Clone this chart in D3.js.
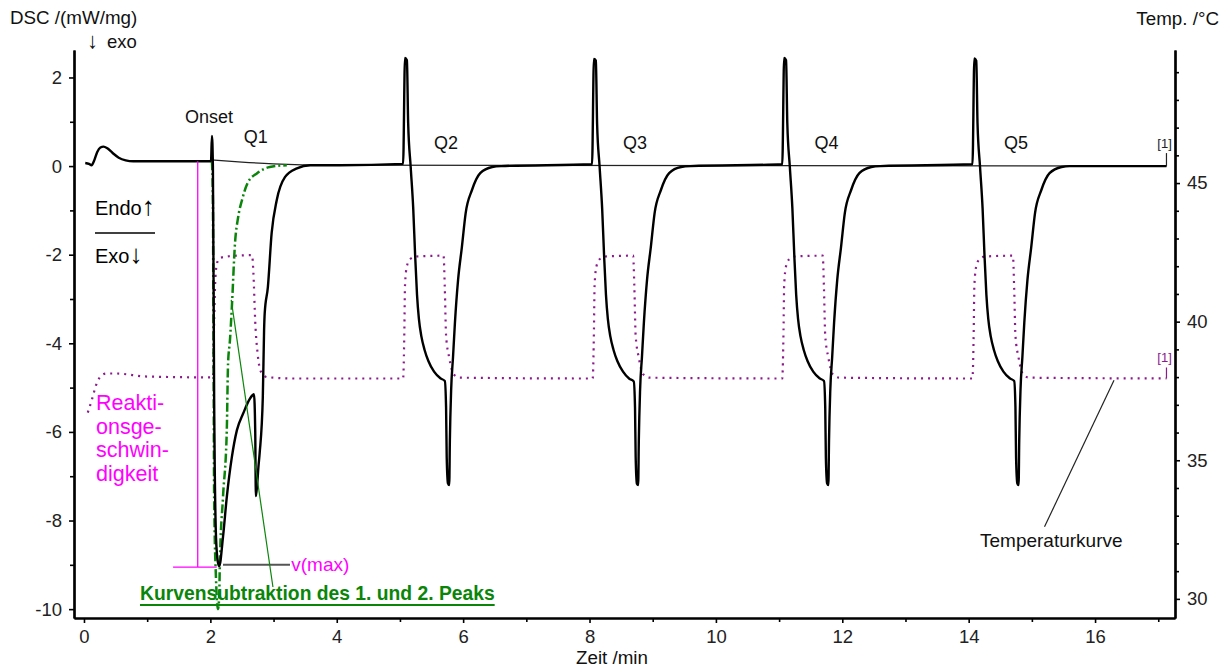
<!DOCTYPE html>
<html>
<head>
<meta charset="utf-8">
<script src="https://cdn.jsdelivr.net/npm/d3@7"></script>
<style>
body { margin: 0; background: #fff; }
text { font-family: "Liberation Sans", Arial, sans-serif; }
</style>
</head>
<body>
<script>
// tick values
const timeTicks = [0, 2, 4, 6, 8, 10, 12, 14, 16];
const timeMinor = [1, 3, 5, 7, 9, 11, 13, 15, 17];
const dscTicks = [-10, -8, -6, -4, -2, 0, 2];
const dscMinor = [-9, -7, -5, -3, -1, 1];
const tempTicks = [30, 35, 40, 45];
const tempMinor = [31, 32, 33, 34, 36, 37, 38, 39, 41, 42, 43, 44, 46, 47, 48, 49];
const peakLabels = ["Q1", "Q2", "Q3", "Q4", "Q5"];

// DSC signal [min, mW/mg]
const dscStart = [[0.02, 0.07], [0.08, 0.05], [0.12, 0.02], [0.16, 0.12], [0.21, 0.32], [0.26, 0.42], [0.31, 0.44],
    [0.37, 0.40], [0.45, 0.30], [0.55, 0.19], [0.66, 0.13], [0.78, 0.11], [1.4, 0.11], [2.01, 0.11]];
const dscQ1 = [[2.025, 0.68], [2.04, 0.0], [2.06, -5.3], [2.09, -8.4], [2.12, -8.95], [2.14, -9.03], [2.20, -8.37],
    [2.26, -7.47], [2.34, -6.57], [2.42, -5.96], [2.52, -5.58], [2.63, -5.24], [2.69, -5.15], [2.71, -6.0],
    [2.72, -7.45], [2.74, -7.2], [2.76, -6.8], [2.78, -6.48], [2.83, -5.21], [2.85, -3.70], [2.86, -3.32],
    [2.91, -2.73], [2.97, -1.51], [3.05, -0.77], [3.18, -0.25], [3.37, -0.05], [3.58, 0.02], [4.05, 0.02]];
const dscQ2 = [[5.05, 0.05], [5.08, 2.44], [5.11, 2.39], [5.13, 0.97], [5.17, -0.02], [5.21, -0.95], [5.24, -2.0],
    [5.27, -2.9], [5.30, -3.45], [5.34, -3.85], [5.39, -4.15], [5.45, -4.4], [5.54, -4.64], [5.64, -4.79], [5.71, -4.85],
    [5.73, -5.44], [5.74, -6.57], [5.76, -7.16], [5.78, -7.2], [5.79, -6.19], [5.81, -5.06], [5.84, -4.31],
    [5.87, -3.54], [5.92, -2.57], [5.98, -1.83], [6.04, -1.06], [6.14, -0.54], [6.27, -0.16], [6.46, -0.02], [6.6, 0.0]];
const dscQ3 = [[8.04, 0.04], [8.07, 2.42], [8.10, 2.38], [8.12, 0.95], [8.16, -0.02], [8.20, -0.96], [8.23, -2.0],
    [8.26, -2.9], [8.29, -3.45], [8.33, -3.85], [8.38, -4.15], [8.44, -4.4], [8.53, -4.64], [8.63, -4.8], [8.70, -4.86],
    [8.72, -5.45], [8.73, -6.55], [8.75, -7.17], [8.77, -7.2], [8.78, -6.2], [8.80, -5.06], [8.83, -4.3],
    [8.86, -3.54], [8.91, -2.57], [8.97, -1.83], [9.03, -1.06], [9.13, -0.54], [9.26, -0.16], [9.45, -0.02], [9.6, 0.0]];
const dscQ4 = [[11.05, 0.04], [11.08, 2.44], [11.11, 2.39], [11.13, 0.96], [11.17, -0.02], [11.21, -0.95], [11.24, -2.0],
    [11.27, -2.9], [11.30, -3.45], [11.34, -3.85], [11.39, -4.15], [11.45, -4.4], [11.54, -4.64], [11.64, -4.79], [11.71, -4.85],
    [11.73, -5.44], [11.74, -6.57], [11.76, -7.16], [11.78, -7.2], [11.79, -6.19], [11.81, -5.06], [11.84, -4.31],
    [11.87, -3.54], [11.92, -2.57], [11.98, -1.83], [12.04, -1.06], [12.14, -0.54], [12.27, -0.16], [12.46, -0.02], [12.6, 0.0]];
const dscQ5 = [[14.06, 0.04], [14.09, 2.43], [14.12, 2.38], [14.14, 0.96], [14.18, -0.02], [14.22, -0.95], [14.25, -2.0],
    [14.28, -2.9], [14.31, -3.45], [14.35, -3.85], [14.40, -4.15], [14.46, -4.4], [14.55, -4.64], [14.65, -4.79], [14.72, -4.85],
    [14.74, -5.44], [14.75, -6.57], [14.77, -7.16], [14.79, -7.2], [14.80, -6.19], [14.82, -5.06], [14.85, -4.31],
    [14.88, -3.54], [14.93, -2.57], [14.99, -1.83], [15.05, -1.06], [15.15, -0.54], [15.28, -0.16], [15.47, -0.02],
    [15.6, 0.0], [17.13, 0.0]];

// baseline drawn from the onset on
const dscBaseline = [[2.025, 0.14], [2.5, 0.09], [3.0, 0.05], [3.9, 0.02], [17.13, 0.0]];

// curve subtraction of the 1st and 2nd peak
const dscSubtracted = [[2.025, 0.11], [2.04, -0.8], [2.05, -4.1], [2.06, -7.5], [2.09, -9.35], [2.12, -10.0], [2.14, -9.7],
    [2.15, -8.96], [2.20, -7.47], [2.26, -5.96], [2.28, -4.45], [2.31, -3.93], [2.34, -3.18], [2.39, -1.74],
    [2.44, -1.15], [2.50, -0.77], [2.59, -0.38], [2.74, -0.16], [2.94, -0.02], [3.21, 0.02]];

// temperature [min, °C]
const tempStart = [[0.06, 36.72], [0.10, 37.0], [0.14, 37.3], [0.19, 37.7], [0.25, 37.99], [0.35, 38.13], [0.5, 38.13],
    [1.0, 38.02], [2.03, 37.99]];
const tempQ1 = [[2.04, 38.0], [2.06, 40.0], [2.08, 41.6], [2.11, 42.15], [2.16, 42.3], [2.3, 42.36], [2.66, 42.4],
    [2.68, 41.8], [2.71, 40.0], [2.75, 38.8], [2.80, 38.2], [2.9, 38.0], [3.3, 37.95], [5.04, 37.95]];
const tempQ2 = [[5.05, 37.95], [5.07, 39.7], [5.08, 41.3], [5.11, 42.0], [5.16, 42.25], [5.25, 42.35], [5.69, 42.38],
    [5.71, 41.2], [5.73, 39.5], [5.78, 38.7], [5.85, 38.1], [5.95, 37.98], [8.04, 37.95]];
const tempQ3 = [[8.05, 37.95], [8.07, 39.7], [8.08, 41.3], [8.11, 42.0], [8.16, 42.25], [8.25, 42.35], [8.69, 42.38],
    [8.71, 41.2], [8.73, 39.5], [8.78, 38.7], [8.85, 38.1], [8.95, 37.98], [11.04, 37.95]];
const tempQ4 = [[11.05, 37.95], [11.07, 39.7], [11.08, 41.3], [11.11, 42.0], [11.16, 42.25], [11.25, 42.35], [11.69, 42.38],
    [11.71, 41.2], [11.73, 39.5], [11.78, 38.7], [11.85, 38.1], [11.95, 37.98], [14.05, 37.95]];
const tempQ5 = [[14.06, 37.95], [14.08, 39.7], [14.09, 41.3], [14.12, 42.0], [14.17, 42.25], [14.26, 42.35], [14.70, 42.38],
    [14.72, 41.2], [14.74, 39.5], [14.79, 38.7], [14.86, 38.1], [14.96, 37.98], [17.13, 37.95]];

const width = 1230, height = 671;
const margin = {left: 74, right: 1175, top: 50, bottom: 618};

const svg = d3.select("body").append("svg")
    .attr("width", width)
    .attr("height", height)
    .style("font-family", "'Liberation Sans', Arial, sans-serif");

let x = d3.scaleLinear().domain([-0.158, 17.265]).range([margin.left, margin.right]),
    yDsc = d3.scaleLinear().domain([-10.2, 2.62]).range([margin.bottom, margin.top]),
    yTemp = d3.scaleLinear().domain([29.31, 49.8]).range([margin.bottom, margin.top]);

const styleAxis = (g, size) => {
    g.select(".domain").attr("stroke", "#000").attr("stroke-width", 2.2);
    g.selectAll(".tick line").attr("stroke", "#000").attr("stroke-width", 1.6);
    g.selectAll(".tick text").attr("font-size", size).attr("fill", "#222")
        .attr("font-family", "'Liberation Sans', Arial, sans-serif");
};

// minor ticks first, major on top
svg.append("g").attr("transform", "translate(" + margin.left + ",0)")
    .call(d3.axisLeft(yDsc).tickValues(dscMinor).tickSize(4).tickFormat("").tickSizeOuter(0))
    .call(g => styleAxis(g, 18.5));
svg.append("g").attr("transform", "translate(" + margin.left + ",0)")
    .call(d3.axisLeft(yDsc).tickValues(dscTicks).tickSize(5).tickPadding(7).tickSizeOuter(0).tickFormat(d => String(d)))
    .call(g => styleAxis(g, 18.5));

svg.append("g").attr("transform", "translate(0," + margin.bottom + ")")
    .call(d3.axisBottom(x).tickValues(timeMinor).tickSize(4).tickFormat("").tickSizeOuter(0))
    .call(g => styleAxis(g, 18.5));
svg.append("g").attr("transform", "translate(0," + margin.bottom + ")")
    .call(d3.axisBottom(x).tickValues(timeTicks).tickSize(5).tickPadding(7).tickSizeOuter(0).tickFormat(d => String(d)))
    .call(g => styleAxis(g, 18.5));

svg.append("g").attr("transform", "translate(" + margin.right + ",0)")
    .call(d3.axisRight(yTemp).tickValues(tempMinor).tickSize(4).tickFormat("").tickSizeOuter(0))
    .call(g => styleAxis(g, 18.5));
svg.append("g").attr("transform", "translate(" + margin.right + ",0)")
    .call(d3.axisRight(yTemp).tickValues(tempTicks).tickSize(5).tickPadding(7).tickSizeOuter(0).tickFormat(d => String(d)))
    .call(g => styleAxis(g, 18.5));

// axis titles
svg.append("text").attr("x", 10).attr("y", 24).attr("font-size", 18.8).attr("fill", "#111").text("DSC /(mW/mg)");
const exo = svg.append("text").attr("x", 87).attr("y", 48).attr("font-size", 18.5).attr("fill", "#111");
exo.append("tspan").attr("font-size", 22).text("↓");
exo.append("tspan").attr("dx", 9).text("exo");
svg.append("text").attr("x", 1219).attr("y", 25).attr("font-size", 18.8).attr("fill", "#111")
    .attr("text-anchor", "end").text("Temp. /°C");
svg.append("text").attr("x", 612).attr("y", 664).attr("font-size", 18.8).attr("fill", "#111")
    .attr("text-anchor", "middle").text("Zeit /min");

const lineDsc = d3.line().x(d => x(d[0])).y(d => yDsc(d[1])).curve(d3.curveMonotoneX);
const lineTemp = d3.line().x(d => x(d[0])).y(d => yTemp(d[1])).curve(d3.curveMonotoneX);

// thin baseline
svg.append("path").datum(dscBaseline)
    .attr("d", lineDsc).attr("fill", "none").attr("stroke", "#222").attr("stroke-width", 1.2);

// temperature, dotted purple
svg.append("path").datum([...tempStart, ...tempQ1, ...tempQ2, ...tempQ3, ...tempQ4, ...tempQ5])
    .attr("d", lineTemp).attr("fill", "none").attr("stroke", "#8b1a8b")
    .attr("stroke-width", 2.2).attr("stroke-dasharray", "2,5");

// subtraction curve, green dash-dot
svg.append("path").datum(dscSubtracted)
    .attr("d", lineDsc).attr("fill", "none").attr("stroke", "#0a850a")
    .attr("stroke-width", 2.5).attr("stroke-dasharray", "9,3,2,3");

// DSC curve
svg.append("path").datum([...dscStart, ...dscQ1, ...dscQ2, ...dscQ3, ...dscQ4, ...dscQ5])
    .attr("d", lineDsc).attr("fill", "none").attr("stroke", "#000")
    .attr("stroke-width", 2.4).attr("stroke-linejoin", "round");

// end markers [1]
svg.append("path")
    .attr("d", "M" + x(17.13) + "," + yDsc(0) + "V" + (yDsc(0) - 13))
    .attr("stroke", "#222").attr("stroke-width", 1.2);
svg.append("text").attr("x", x(17.1)).attr("y", yDsc(0) - 18).attr("font-size", 13)
    .attr("text-anchor", "middle").attr("fill", "#222").text("[1]");
svg.append("path")
    .attr("d", "M" + x(17.13) + "," + yTemp(37.95) + "V" + (yTemp(37.95) - 11))
    .attr("stroke", "#8b1a8b").attr("stroke-width", 1.2);
svg.append("text").attr("x", x(17.1)).attr("y", yTemp(37.95) - 16).attr("font-size", 13)
    .attr("text-anchor", "middle").attr("fill", "#8b1a8b").text("[1]");

// peak labels
const labelTimes = [2.72, 5.73, 8.72, 11.75, 14.75];
svg.append("g").selectAll("text")
    .data(peakLabels)
    .enter()
    .append("text")
        .attr("x", (d, i) => x(labelTimes[i]))
        .attr("y", (d, i) => i == 0 ? 143 : 149)
        .attr("text-anchor", "middle")
        .attr("font-size", 18)
        .attr("fill", "#111")
        .text(d => d);
svg.append("text").attr("x", 209).attr("y", 123).attr("font-size", 18)
    .attr("text-anchor", "middle").attr("fill", "#111").text("Onset");

// Endo / Exo
const endo = svg.append("text").attr("x", 95).attr("y", 215).attr("font-size", 20).attr("fill", "#000");
endo.append("tspan").text("Endo");
endo.append("tspan").attr("font-size", 26).text("↑");
svg.append("line").attr("x1", 95).attr("x2", 155).attr("y1", 233).attr("y2", 233)
    .attr("stroke", "#000").attr("stroke-width", 1.5);
const exoLabel = svg.append("text").attr("x", 95).attr("y", 263).attr("font-size", 20).attr("fill", "#000");
exoLabel.append("tspan").text("Exo");
exoLabel.append("tspan").attr("font-size", 26).text("↓");

// reaction rate annotation (magenta)
const magenta = "#ff00ff";
const vmax = -9.05;
svg.append("line")
    .attr("x1", x(1.80)).attr("x2", x(1.80)).attr("y1", yDsc(0.11)).attr("y2", yDsc(vmax))
    .attr("stroke", magenta).attr("stroke-width", 1.3);
svg.append("line")
    .attr("x1", x(1.41)).attr("x2", x(2.10)).attr("y1", yDsc(vmax)).attr("y2", yDsc(vmax))
    .attr("stroke", magenta).attr("stroke-width", 1.3);
svg.append("line")
    .attr("x1", x(2.20)).attr("x2", x(3.26)).attr("y1", yDsc(-9.0)).attr("y2", yDsc(-9.0))
    .attr("stroke", "#555").attr("stroke-width", 2);
svg.append("text").attr("x", x(3.28)).attr("y", yDsc(-9.0) + 6).attr("font-size", 19)
    .attr("fill", magenta).text("v(max)");
["Reakti-", "onsge-", "schwin-", "digkeit"].forEach((t, i) => {
    svg.append("text").attr("x", 96).attr("y", 410 + i * 23.7).attr("font-size", 21.5)
        .attr("fill", magenta).text(t);
});

// subtraction label
svg.append("line")
    .attr("x1", x(2.33)).attr("y1", yDsc(-3.02)).attr("x2", x(2.99)).attr("y2", yDsc(-9.5))
    .attr("stroke", "#0a850a").attr("stroke-width", 1.2);
const subLabel = svg.append("text").attr("x", 140).attr("y", 600)
    .attr("font-size", 19.3).attr("font-weight", "bold").attr("fill", "#0a850a")
    .text("Kurvensubtraktion des 1. und 2. Peaks");
const subW = subLabel.node().getComputedTextLength();
svg.append("line").attr("x1", 140).attr("x2", 140 + subW).attr("y1", 605).attr("y2", 605)
    .attr("stroke", "#0a850a").attr("stroke-width", 2);

// temperature curve label
svg.append("line")
    .attr("x1", x(15.20)).attr("y1", yTemp(32.6)).attr("x2", x(16.30)).attr("y2", yTemp(37.89))
    .attr("stroke", "#222").attr("stroke-width", 1.2);
svg.append("text").attr("x", 980).attr("y", 547).attr("font-size", 19).attr("fill", "#111").text("Temperaturkurve");
</script>
</body>
</html>
